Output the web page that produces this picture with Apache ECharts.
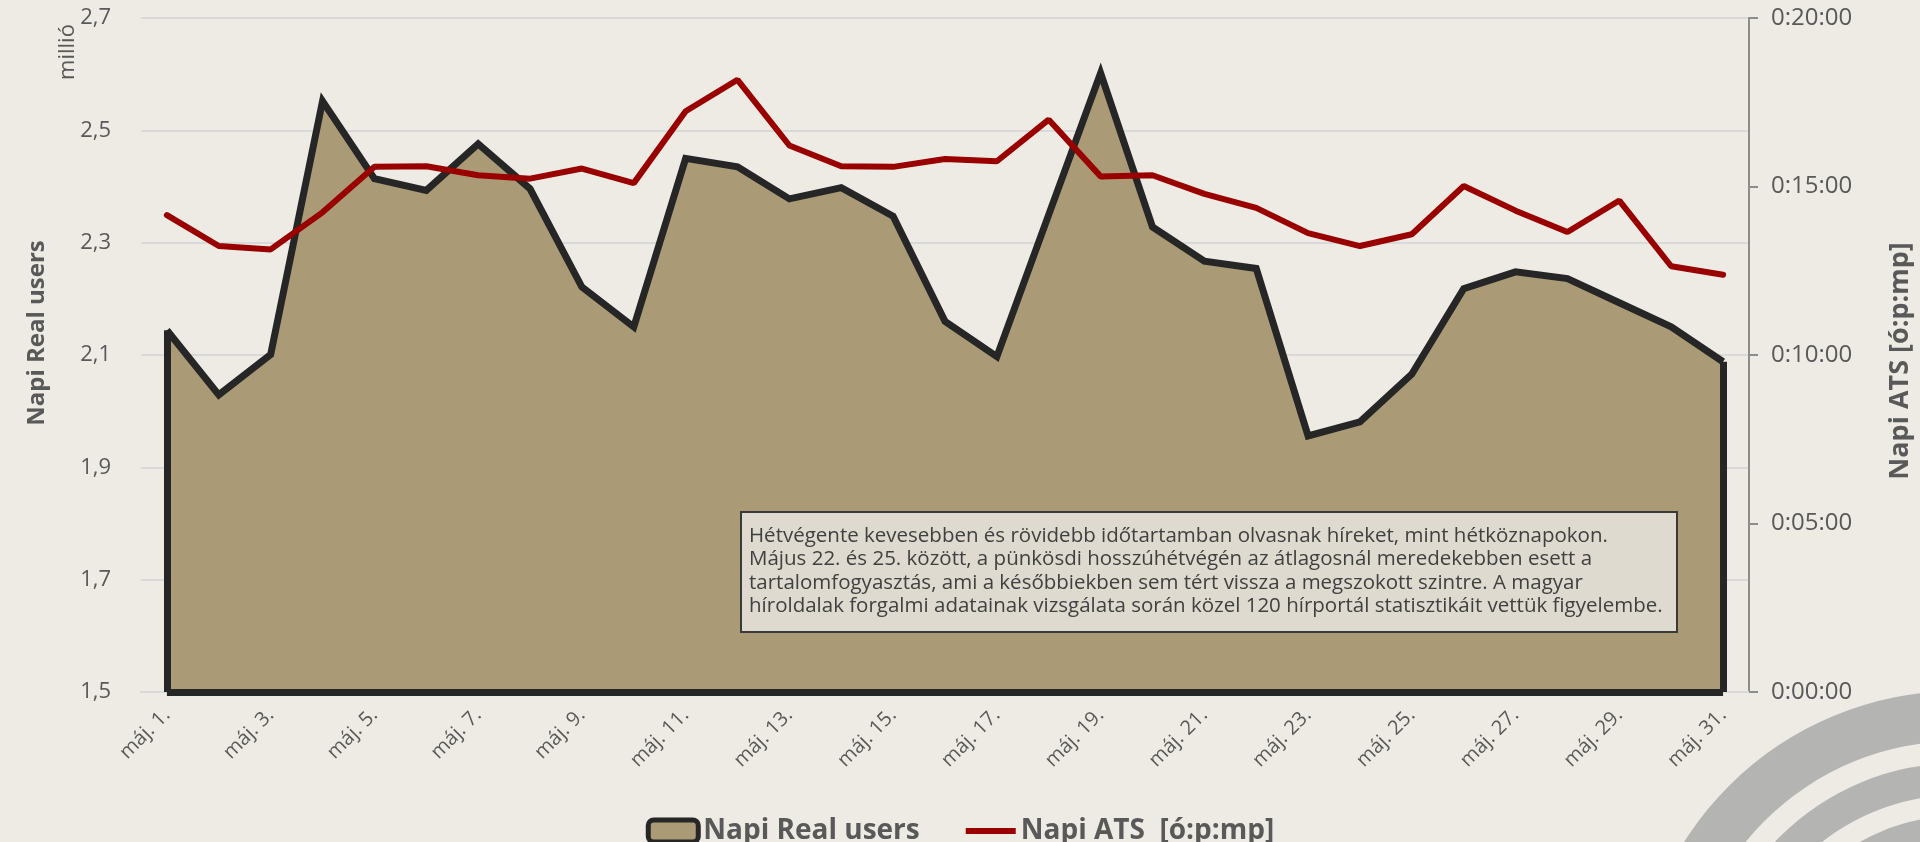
<!DOCTYPE html>
<html>
<head>
<meta charset="utf-8">
<title>Napi Real users / ATS</title>
<script src="https://cdn.jsdelivr.net/npm/echarts@6/dist/echarts.min.js"></script>
<style>
    html, body { margin: 0; padding: 0; background: #eeebe4; }
    #chart { width: 1920px; height: 842px; }
</style>
</head>
<body>
<div id="chart"></div>
<script>
var days = ['máj. 1.', 'máj. 2.', 'máj. 3.', 'máj. 4.', 'máj. 5.', 'máj. 6.', 'máj. 7.', 'máj. 8.',
    'máj. 9.', 'máj. 10.', 'máj. 11.', 'máj. 12.', 'máj. 13.', 'máj. 14.', 'máj. 15.', 'máj. 16.',
    'máj. 17.', 'máj. 18.', 'máj. 19.', 'máj. 20.', 'máj. 21.', 'máj. 22.', 'máj. 23.', 'máj. 24.',
    'máj. 25.', 'máj. 26.', 'máj. 27.', 'máj. 28.', 'máj. 29.', 'máj. 30.', 'máj. 31.'];

// napi real users, millió
var realUsers = [2.144, 2.029, 2.101, 2.552, 2.414, 2.393, 2.476, 2.396,
    2.221, 2.150, 2.450, 2.435, 2.378, 2.398, 2.347, 2.160,
    2.097, 2.350, 2.602, 2.328, 2.267, 2.254, 1.956, 1.981,
    2.066, 2.218, 2.248, 2.236, 2.193, 2.150, 2.088];

// napi ATS, másodperc
var atsSeconds = [849, 794, 788, 854, 935, 936, 920, 914,
    932, 906, 1034, 1090, 973, 936, 935, 949,
    945, 1019, 918, 920, 887, 862, 817, 794,
    815, 901, 857, 819, 875, 758, 743];

var usersTicks = [1.5, 2.7, 0.2];     // min, max, lépés
var atsTicks = [0, 1200, 300];        // 0:00:00 - 0:20:00, 5 percenként

var noteLines = [
    'Hétvégente kevesebben és rövidebb időtartamban olvasnak híreket, mint hétköznapokon.',
    'Május 22. és 25. között, a pünkösdi hosszúhétvégén az átlagosnál meredekebben esett a',
    'tartalomfogyasztás, ami a későbbiekben sem tért vissza a megszokott szintre. A magyar',
    'híroldalak forgalmi adatainak vizsgálata során közel 120 hírportál statisztikáit vettük figyelembe.'
];

var textColor = '#595959';
var font = '"Open Sans", "Noto Sans", sans-serif';

function pad(n) {
    return (n < 10 ? '0' : '') + n;
}

function formatTime(sec) {
    var h = Math.floor(sec / 3600);
    var m = Math.floor((sec % 3600) / 60);
    return h + ':' + pad(m) + ':' + pad(sec % 60);
}

function outlineEdges() {
    // az Excel-es területdiagram körvonala: bal, jobb és alsó él
    var first = days[0];
    var last = days[days.length - 1];
    var base = usersTicks[0];
    return [
        [{coord: [first, base]}, {coord: [first, realUsers[0]]}],
        [{coord: [last, base]}, {coord: [last, realUsers[realUsers.length - 1]]}],
        [{coord: [first, base]}, {coord: [last, base]}]
    ];
}

function ring(r, r0) {
    return {
        type: 'ring',
        silent: true,
        z: -1,
        shape: { cx: 1958, cy: 1015, r: r, r0: r0 },
        style: { fill: '#b4b5b3' }
    };
}

function verticalText(text, x, y, size, weight) {
    return {
        type: 'text',
        x: x,
        y: y,
        rotation: Math.PI / 2,
        style: {
            text: text,
            font: weight + ' ' + size + 'px ' + font,
            fill: textColor,
            align: 'center',
            verticalAlign: 'middle'
        }
    };
}

function drawChart() {
    var myChart = echarts.init(document.getElementById('chart'));
    var option = {
        backgroundColor: '#eeebe4',
        animation: false,
        textStyle: { fontFamily: font },
        grid: {
            left: 141,
            right: 171,
            top: 18,
            bottom: 150,
            outerBoundsMode: 'none'
        },
        legend: {
            left: 'center',
            top: 812,
            itemWidth: 50,
            itemHeight: 22,
            itemGap: 46,
            symbolKeepAspect: true,
            textStyle: {
                color: textColor,
                fontSize: 28,
                fontWeight: 'bold',
                fontFamily: font
            },
            data: [{
                name: 'Napi Real users',
                icon: 'roundRect',
                itemStyle: { color: '#aa9b76', borderColor: '#262626', borderWidth: 5 }
            }, {
                name: 'Napi ATS  [ó:p:mp]',
                icon: 'path://M0,0 L50,0 L50,6 L0,6 Z',
                itemStyle: { color: '#990000' }
            }]
        },
        xAxis: [{
            type: 'category',
            data: days,
            boundaryGap: true,
            axisLine: { lineStyle: { color: '#d9d9d9', width: 2 } },
            axisTick: { show: false },
            axisLabel: {
                interval: 1,
                rotate: 45,
                margin: 20,
                color: textColor,
                fontSize: 20,
                fontFamily: font
            }
        }],
        yAxis: [{
            type: 'value',
            min: usersTicks[0],
            max: usersTicks[1],
            interval: usersTicks[2],
            axisLine: { show: false },
            axisTick: { show: false },
            splitLine: { lineStyle: { color: '#d9d9d9', width: 2 } },
            axisLabel: {
                margin: 30,
                color: textColor,
                fontSize: 22,
                fontFamily: font,
                formatter: function (v) {
                    return v.toFixed(1).replace('.', ',');
                }
            }
        }, {
            type: 'value',
            position: 'right',
            min: atsTicks[0],
            max: atsTicks[1],
            interval: atsTicks[2],
            axisLine: { show: true, lineStyle: { color: '#8c8c8c', width: 2 } },
            axisTick: { show: true, length: 9, lineStyle: { color: '#8c8c8c', width: 2 } },
            splitLine: { show: false },
            axisLabel: {
                margin: 22,
                color: textColor,
                fontSize: 24,
                fontFamily: font,
                formatter: formatTime
            }
        }],
        series: [{
            name: 'Napi Real users',
            type: 'line',
            yAxisIndex: 0,
            data: realUsers,
            symbol: 'none',
            z: 2,
            lineStyle: { color: '#262626', width: 7, join: 'miter' },
            itemStyle: { color: '#aa9b76' },
            areaStyle: { color: '#aa9b76', opacity: 1 },
            markLine: {
                silent: true,
                symbol: 'none',
                label: { show: false },
                lineStyle: { color: '#262626', width: 7, type: 'solid' },
                data: outlineEdges()
            }
        }, {
            name: 'Napi ATS  [ó:p:mp]',
            type: 'line',
            yAxisIndex: 1,
            data: atsSeconds,
            symbol: 'none',
            z: 3,
            itemStyle: { color: '#990000' },
            lineStyle: { color: '#990000', width: 6, cap: 'round' }
        }],
        graphic: [
            ring(324, 274),
            ring(252, 220),
            ring(199, 163),
            verticalText('millió', 68, 52, 22, 'normal'),
            verticalText('Napi Real users', 37, 333, 24, 'bold'),
            verticalText('Napi ATS [ó:p:mp]', 1900, 361, 27, 'bold'),
            {
                type: 'rect',
                z: 20,
                shape: { x: 741, y: 512, width: 936, height: 120 },
                style: { fill: '#dedad0', stroke: '#3a3a3a', lineWidth: 2 }
            }, {
                type: 'text',
                z: 21,
                x: 749,
                y: 524,
                style: {
                    text: noteLines.join('\n'),
                    font: '20.5px ' + font,
                    lineHeight: 23.6,
                    fill: '#404040',
                    verticalAlign: 'top'
                }
            }
        ]
    };
    myChart.setOption(option);
}

drawChart();
</script>
</body>
</html>
